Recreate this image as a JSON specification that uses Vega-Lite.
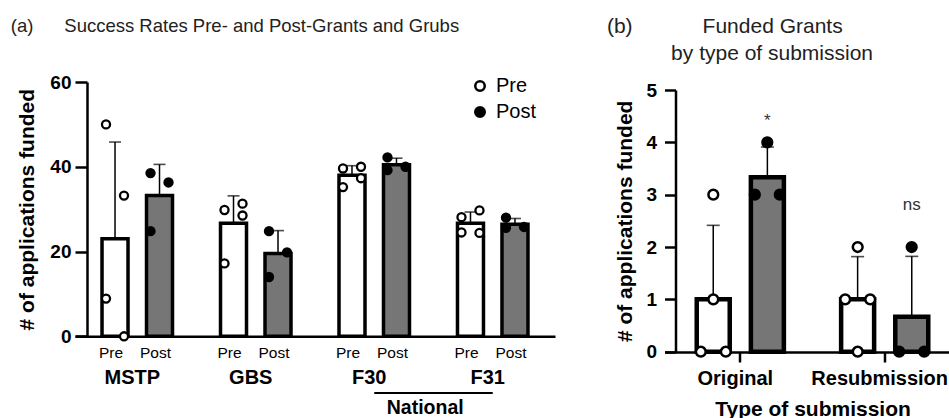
{
  "$schema": "https://vega.github.io/schema/vega-lite/v6.json",
  "padding": {"left": 10, "top": 16, "right": 0, "bottom": 0},
  "background": "white",
  "config": {
    "font": "Liberation Sans",
    "view": {"stroke": null},
    "axis": {
      "domainColor": "black", "domainWidth": 2.5,
      "tickColor": "black", "tickWidth": 2.5,
      "labelFont": "Liberation Sans", "labelFontWeight": "bold", "labelColor": "black",
      "titleFont": "Liberation Sans", "titleFontWeight": "bold", "titleColor": "black",
      "grid": false
    },
    "title": {"font": "Liberation Sans", "fontWeight": "normal", "color": "#222222"}
  },
  "resolve": {
    "scale": {"x": "independent", "y": "independent", "xOffset": "independent", "fill": "independent"},
    "legend": {"fill": "independent"}
  },
  "datasets": {
    "grants": [
      {"group": "MSTP", "period": "Pre", "rep": 1, "value": 50},
      {"group": "MSTP", "period": "Pre", "rep": 2, "value": 33.2},
      {"group": "MSTP", "period": "Pre", "rep": 3, "value": 8.9},
      {"group": "MSTP", "period": "Pre", "rep": 4, "value": 0},
      {"group": "MSTP", "period": "Post", "rep": 1, "value": 38.5},
      {"group": "MSTP", "period": "Post", "rep": 2, "value": 36.3},
      {"group": "MSTP", "period": "Post", "rep": 3, "value": 24.8},
      {"group": "GBS", "period": "Pre", "rep": 1, "value": 29.8},
      {"group": "GBS", "period": "Pre", "rep": 2, "value": 31.3},
      {"group": "GBS", "period": "Pre", "rep": 4, "value": 28.5},
      {"group": "GBS", "period": "Pre", "rep": 3, "value": 17.2},
      {"group": "GBS", "period": "Post", "rep": 1, "value": 24.8},
      {"group": "GBS", "period": "Post", "rep": 2, "value": 19.8},
      {"group": "GBS", "period": "Post", "rep": 3, "value": 14},
      {"group": "F30", "period": "Pre", "rep": 1, "value": 39.6},
      {"group": "F30", "period": "Pre", "rep": 2, "value": 40.0},
      {"group": "F30", "period": "Pre", "rep": 4, "value": 37.3},
      {"group": "F30", "period": "Pre", "rep": 3, "value": 35.2},
      {"group": "F30", "period": "Post", "rep": 1, "value": 42.2},
      {"group": "F30", "period": "Post", "rep": 3, "value": 39.2},
      {"group": "F30", "period": "Post", "rep": 2, "value": 40.0},
      {"group": "F31", "period": "Pre", "rep": 1, "value": 28.1},
      {"group": "F31", "period": "Pre", "rep": 2, "value": 29.7},
      {"group": "F31", "period": "Pre", "rep": 3, "value": 24.5},
      {"group": "F31", "period": "Pre", "rep": 4, "value": 24.4},
      {"group": "F31", "period": "Post", "rep": 1, "value": 28.0},
      {"group": "F31", "period": "Post", "rep": 3, "value": 25.6},
      {"group": "F31", "period": "Post", "rep": 2, "value": 25.8}
    ],
    "subs": [
      {"type": "Original", "period": "Pre", "rep": 1, "value": 3},
      {"type": "Original", "period": "Pre", "rep": 4, "value": 1},
      {"type": "Original", "period": "Pre", "rep": 2, "value": 0},
      {"type": "Original", "period": "Pre", "rep": 3, "value": 0},
      {"type": "Original", "period": "Post", "rep": 1, "value": 4},
      {"type": "Original", "period": "Post", "rep": 2, "value": 3},
      {"type": "Original", "period": "Post", "rep": 3, "value": 3},
      {"type": "Resubmission", "period": "Pre", "rep": 1, "value": 2},
      {"type": "Resubmission", "period": "Pre", "rep": 2, "value": 1},
      {"type": "Resubmission", "period": "Pre", "rep": 3, "value": 1},
      {"type": "Resubmission", "period": "Pre", "rep": 4, "value": 0},
      {"type": "Resubmission", "period": "Post", "rep": 1, "value": 2},
      {"type": "Resubmission", "period": "Post", "rep": 2, "value": 0},
      {"type": "Resubmission", "period": "Post", "rep": 3, "value": 0}
    ]
  },
  "hconcat": [
    {
      "width": 480,
      "height": 269,
      "title": {
        "text": "(a)\u00a0\u00a0\u00a0\u00a0\u00a0\u00a0Success Rates Pre- and Post-Grants and Grubs",
        "anchor": "start", "frame": "bounds", "fontSize": 18.5, "offset": 37.5, "dx": -6
      },
      "layer": [
        {
          "data": {"name": "grants"},
          "mark": {"type": "errorbar", "extent": "stdev", "color": "black", "thickness": 1.5, "ticks": {"size": 12, "thickness": 1.6, "color": "black"}},
          "encoding": {
            "x": {"field": "group", "type": "nominal",
                  "scale": {"domain": ["MSTP", "GBS", "F30", "F31"], "paddingInner": 0.249, "paddingOuter": 0.15},
                  "axis": {"title": null, "labelAngle": 0, "ticks": false, "tickSize": 0, "labelPadding": 31, "labelFontSize": 20, "labelOffset": -5, "offset": -14.7}},
            "xOffset": {"field": "period", "type": "nominal", "scale": {"domain": ["Pre", "Post"], "paddingInner": 0, "paddingOuter": 0}},
            "y": {"field": "value", "type": "quantitative", "scale": {"domain": [0, 60], "nice": false, "range": [254.3, 0]},
                  "axis": {"title": "# of applications funded", "values": [0, 20, 40, 60], "offset": -12, "tickSize": 12, "labelPadding": 4, "labelFontSize": 19, "titleFontSize": 21, "titlePadding": 12}}
          }
        },
        {
          "data": {"name": "grants"},
          "mark": {"type": "bar", "stroke": "black", "strokeWidth": 3.5, "size": 26},
          "encoding": {
            "x": {"field": "group", "type": "nominal",
                  "scale": {"domain": ["MSTP", "GBS", "F30", "F31"], "paddingInner": 0.249, "paddingOuter": 0.15}},
            "xOffset": {"field": "period", "type": "nominal", "scale": {"domain": ["Pre", "Post"], "paddingInner": 0, "paddingOuter": 0}},
            "y": {"aggregate": "mean", "field": "value", "type": "quantitative", "title": "# of applications funded"},
            "color": {"condition": {"test": "datum.period === 'Pre'", "value": "white"}, "value": "#767676"}
          }
        },
        {
          "data": {"name": "grants"},
          "mark": {"type": "point", "shape": "circle", "stroke": "black", "strokeWidth": 2.3, "size": 65, "opacity": 1,
                   "xOffset": {"expr": "(datum.period === 'Pre' ? -22.25 : 22.25) + (datum.rep % 2 === 1 ? -9 : 9)"}},
          "encoding": {
            "x": {"field": "group", "type": "nominal"},
            "y": {"field": "value", "type": "quantitative", "title": "# of applications funded"},
            "fill": {"field": "period", "type": "nominal", "scale": {"domain": ["Pre", "Post"], "range": ["white", "black"]},
                     "legend": {"title": null, "orient": "none", "legendX": 395, "legendY": -6, "padding": 0, "labelFontSize": 20, "labelFont": "Liberation Sans", "labelColor": "black", "labelFontWeight": "normal", "symbolSize": 90, "symbolStrokeColor": "black", "symbolStrokeWidth": 2.5, "labelOffset": 6, "rowPadding": 6, "symbolType": "circle"}}
          }
        },
        {
          "data": {"name": "grants"},
          "transform": [{"aggregate": [{"op": "count", "as": "n"}], "groupby": ["group", "period"]}],
          "mark": {"type": "text", "fontSize": 15.5, "color": "black", "baseline": "middle", "dy": 17, "dx": -4},
          "encoding": {
            "x": {"field": "group", "type": "nominal"},
            "xOffset": {"field": "period", "type": "nominal"},
            "y": {"datum": 0},
            "text": {"field": "period"}
          }
        },
        {
          "data": {"values": [{"group": "F30", "end": "F31", "label": "National"}]},
          "mark": {"type": "rule", "color": "black", "strokeWidth": 2},
          "encoding": {
            "x": {"field": "group", "type": "nominal"},
            "x2": {"field": "end"},
            "y": {"datum": -13.4}
          }
        },
        {
          "data": {"values": [{"group": "F30", "end": "F31", "label": "National"}]},
          "mark": {"type": "text", "fontSize": 19.5, "fontWeight": "bold", "color": "black", "baseline": "middle", "dx": 51},
          "encoding": {
            "x": {"field": "group", "type": "nominal"},
            "y": {"datum": -16.8},
            "text": {"field": "label"}
          }
        }
      ]
    },
    {
      "width": 296,
      "height": 270,
      "title": {
        "text": ["(b)\u00a0\u00a0\u00a0\u00a0\u00a0\u00a0\u00a0\u00a0\u00a0\u00a0\u00a0\u00a0Funded Grants", "\u200b\u00a0\u00a0\u00a0\u00a0\u00a0\u00a0\u00a0\u00a0\u00a0\u00a0\u00a0by type of submission"],
        "anchor": "start", "frame": "bounds", "fontSize": 21, "lineHeight": 27, "offset": 17, "dx": -8
      },
      "layer": [
        {
          "data": {"name": "subs"},
          "mark": {"type": "errorbar", "extent": "stdev", "color": "black", "thickness": 1.5, "ticks": {"size": 13, "thickness": 1.6, "color": "black"}},
          "encoding": {
            "x": {"field": "type", "type": "nominal",
                  "scale": {"domain": ["Original", "Resubmission"], "paddingInner": 0.25, "paddingOuter": 0.15},
                  "axis": {"title": "Type of submission", "labelAngle": 0, "ticks": true, "tickSize": 10, "labelPadding": 6, "labelFontSize": 20, "labelOffset": -5, "titleFontSize": 21, "titlePadding": 10}},
            "xOffset": {"field": "period", "type": "nominal", "scale": {"domain": ["Pre", "Post"], "paddingInner": 0, "paddingOuter": 0}},
            "y": {"field": "value", "type": "quantitative", "scale": {"domain": [0, 5], "nice": false, "clamp": true, "range": [269.7, 8]},
                  "axis": {"title": "# of applications funded", "values": [0, 1, 2, 3, 4, 5], "offset": -11, "tickSize": 11, "labelPadding": 8, "labelFontSize": 19, "titleFontSize": 21, "titlePadding": 10}}
          }
        },
        {
          "data": {"name": "subs"},
          "mark": {"type": "bar", "stroke": "black", "strokeWidth": 4.5, "size": 33},
          "encoding": {
            "x": {"field": "type", "type": "nominal",
                  "scale": {"domain": ["Original", "Resubmission"], "paddingInner": 0.25, "paddingOuter": 0.15}},
            "xOffset": {"field": "period", "type": "nominal", "scale": {"domain": ["Pre", "Post"], "paddingInner": 0, "paddingOuter": 0}},
            "y": {"aggregate": "mean", "field": "value", "type": "quantitative", "title": "# of applications funded"},
            "color": {"condition": {"test": "datum.period === 'Pre'", "value": "white"}, "value": "#767676"}
          }
        },
        {
          "data": {"name": "subs"},
          "mark": {"type": "point", "shape": "circle", "stroke": "black", "strokeWidth": 2.5, "size": 95, "opacity": 1,
                   "xOffset": {"expr": "(datum.period === 'Pre' ? -27 : 27) + (datum.rep === 2 ? -12.5 : datum.rep === 3 ? 12.5 : 0)"}},
          "encoding": {
            "x": {"field": "type", "type": "nominal"},
            "y": {"field": "value", "type": "quantitative", "title": "# of applications funded"},
            "fill": {"condition": {"test": "datum.period === 'Pre'", "value": "white"}, "value": "black"}
          }
        },
        {
          "data": {"values": [
            {"type": "Original", "period": "Post", "label": "*", "y": 4.4},
            {"type": "Resubmission", "period": "Post", "label": "ns", "y": 2.8}
          ]},
          "mark": {"type": "text", "fontSize": 17, "color": "#333333", "baseline": "middle"},
          "encoding": {
            "x": {"field": "type", "type": "nominal"},
            "xOffset": {"field": "period", "type": "nominal"},
            "y": {"field": "y", "type": "quantitative"},
            "text": {"field": "label"},
            "dx": {"condition": {"test": "datum.label === 'ns'", "value": 9}, "value": 0}
          }
        }
      ]
    }
  ],
  "spacing": 51.5
}
